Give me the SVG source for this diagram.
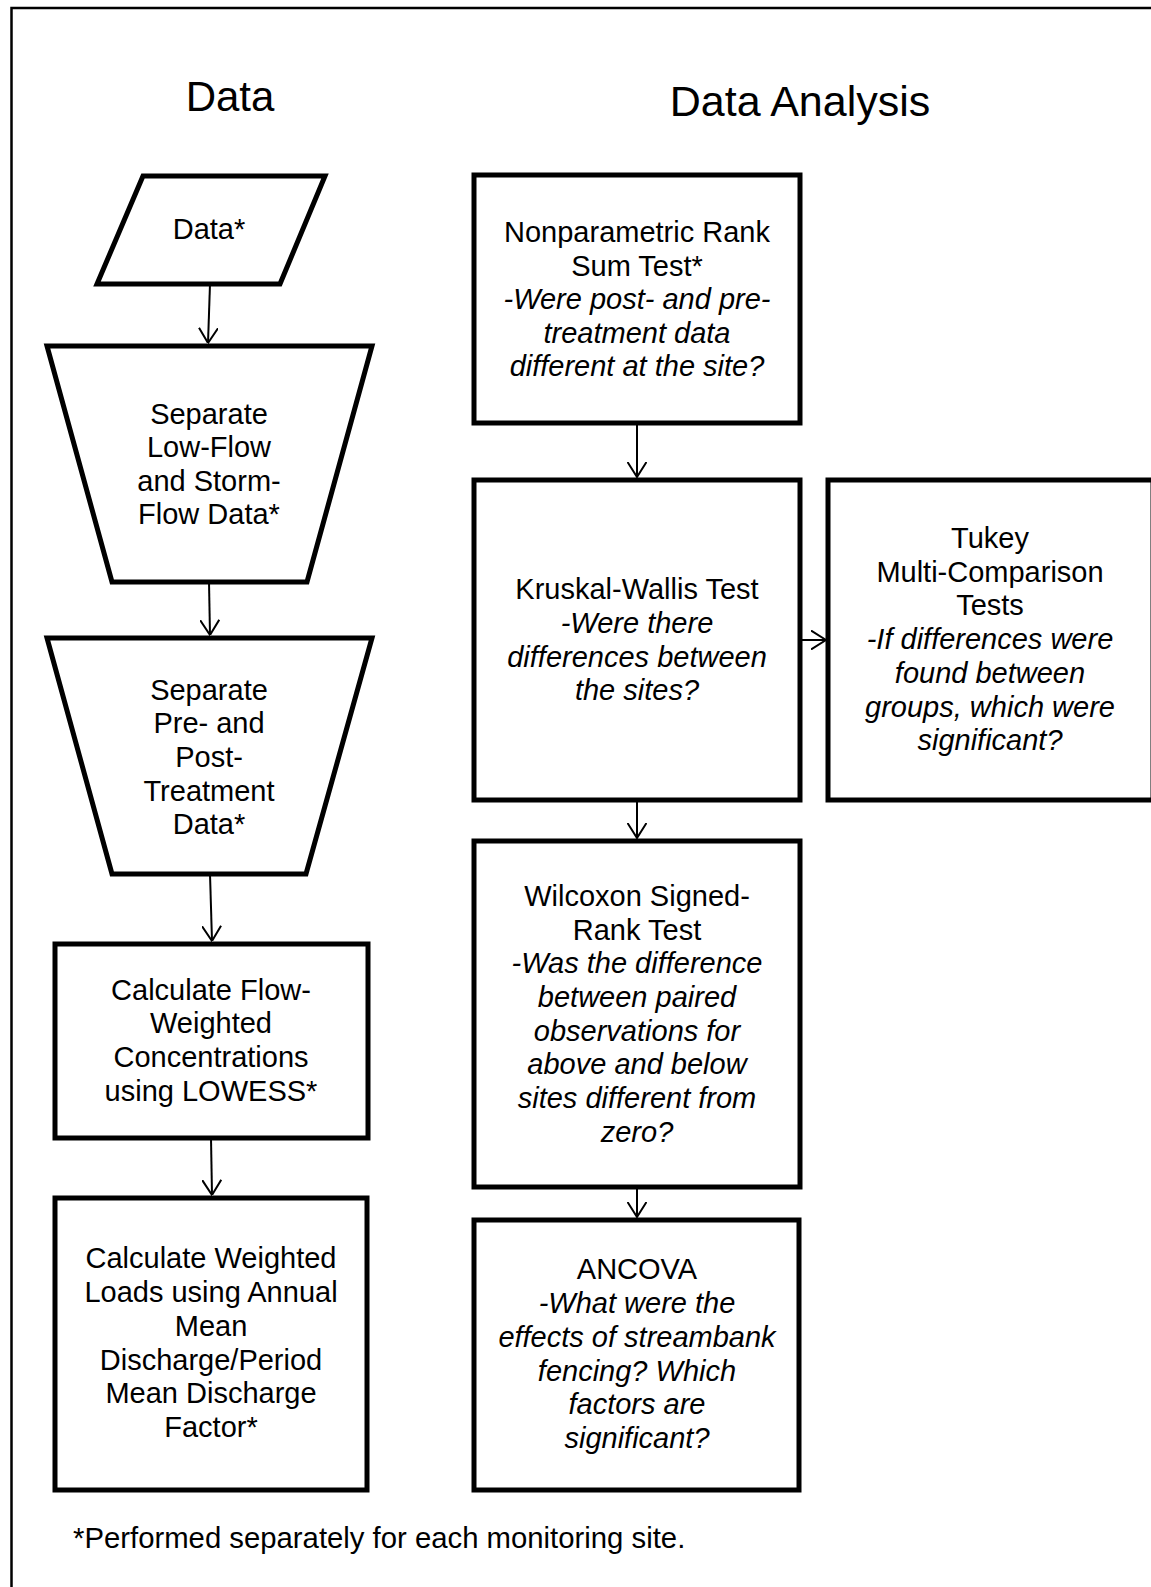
<svg xmlns="http://www.w3.org/2000/svg" width="1151" height="1587" viewBox="0 0 1151 1587">
<defs>
<style>
.node{fill:#fff;stroke:#000;stroke-width:5;stroke-linejoin:miter}
.t{font-family:"Liberation Sans",Arial,sans-serif;font-size:29px;fill:#000;text-anchor:middle}
.i{font-style:italic}
.title{font-family:"Liberation Sans",Arial,sans-serif;font-size:42px;fill:#000;text-anchor:middle}
.conn{fill:none;stroke:#000;stroke-width:2}
</style>
<marker id="arr" viewBox="0 0 16 20" refX="15.5" refY="10" markerWidth="16" markerHeight="20" markerUnits="userSpaceOnUse" orient="auto">
<path d="M0.5,0.5 L15.5,10 L0.5,19.5" fill="none" stroke="#000" stroke-width="2"/>
</marker>
</defs>
<rect width="1151" height="1587" fill="#fff"/>
<rect x="11.5" y="8" width="1160" height="1600" fill="none" stroke="#000" stroke-width="2.5"/>
<text class="title" x="230" y="111">Data</text>
<text class="title" x="800" y="116" style="font-size:43px">Data Analysis</text>

<g id="connectors">
<line class="conn" x1="210" y1="284" x2="208" y2="343" marker-end="url(#arr)"/>
<line class="conn" x1="209" y1="582" x2="210" y2="635" marker-end="url(#arr)"/>
<line class="conn" x1="210" y1="874" x2="212" y2="941" marker-end="url(#arr)"/>
<line class="conn" x1="211" y1="1138" x2="212" y2="1195" marker-end="url(#arr)"/>
<line class="conn" x1="637" y1="423" x2="637" y2="477" marker-end="url(#arr)"/>
<line class="conn" x1="800" y1="640" x2="826" y2="640" marker-end="url(#arr)"/>
<line class="conn" x1="637" y1="800" x2="637" y2="838" marker-end="url(#arr)"/>
<line class="conn" x1="637" y1="1187" x2="637" y2="1217" marker-end="url(#arr)"/>
</g>

<g id="data">
<polygon class="node" points="143,176 325,176 280,284 97,284"/>
<text class="t" x="209" y="239">Data*</text>
</g>

<g id="separate-flow">
<polygon class="node" points="47,346 372,346 307,582 112,582"/>
<text class="t" x="209" y="424">Separate</text>
<text class="t" x="209" y="457">Low-Flow</text>
<text class="t" x="209" y="491">and Storm-</text>
<text class="t" x="209" y="524">Flow Data*</text>
</g>

<g id="separate-treatment">
<polygon class="node" points="47,638 372,638 306,874 112,874"/>
<text class="t" x="209" y="700">Separate</text>
<text class="t" x="209" y="733">Pre- and</text>
<text class="t" x="209" y="767">Post-</text>
<text class="t" x="209" y="801">Treatment</text>
<text class="t" x="209" y="834">Data*</text>
</g>

<g id="flow-weighted">
<rect class="node" x="55" y="944" width="313" height="194"/>
<text class="t" x="211" y="1000">Calculate Flow-</text>
<text class="t" x="211" y="1033">Weighted</text>
<text class="t" x="211" y="1067">Concentrations</text>
<text class="t" x="211" y="1101">using LOWESS*</text>
</g>

<g id="weighted-loads">
<rect class="node" x="55" y="1198" width="312" height="292"/>
<text class="t" x="211" y="1268">Calculate Weighted</text>
<text class="t" x="211" y="1302">Loads using Annual</text>
<text class="t" x="211" y="1336">Mean</text>
<text class="t" x="211" y="1370">Discharge/Period</text>
<text class="t" x="211" y="1403">Mean Discharge</text>
<text class="t" x="211" y="1437">Factor*</text>
</g>

<g id="rank-sum">
<rect class="node" x="474" y="175" width="326" height="248"/>
<text class="t" x="637" y="242">Nonparametric Rank</text>
<text class="t" x="637" y="276">Sum Test*</text>
<text class="t i" x="637" y="309">-Were post- and pre-</text>
<text class="t i" x="637" y="343">treatment data</text>
<text class="t i" x="637" y="376">different at the site?</text>
</g>

<g id="kruskal">
<rect class="node" x="474" y="480" width="326" height="320"/>
<text class="t" x="637" y="599">Kruskal-Wallis Test</text>
<text class="t i" x="637" y="633">-Were there</text>
<text class="t i" x="637" y="667">differences between</text>
<text class="t i" x="637" y="700">the sites?</text>
</g>

<g id="tukey">
<rect class="node" x="828" y="480" width="325" height="320"/>
<text class="t" x="990" y="548">Tukey</text>
<text class="t" x="990" y="582">Multi-Comparison</text>
<text class="t" x="990" y="615">Tests</text>
<text class="t i" x="990" y="649">-If differences were</text>
<text class="t i" x="990" y="683">found between</text>
<text class="t i" x="990" y="717">groups, which were</text>
<text class="t i" x="990" y="750">significant?</text>
</g>

<g id="wilcoxon">
<rect class="node" x="474" y="841" width="326" height="346"/>
<text class="t" x="637" y="906">Wilcoxon Signed-</text>
<text class="t" x="637" y="940">Rank Test</text>
<text class="t i" x="637" y="973">-Was the difference</text>
<text class="t i" x="637" y="1007">between paired</text>
<text class="t i" x="637" y="1041">observations for</text>
<text class="t i" x="637" y="1074">above and below</text>
<text class="t i" x="637" y="1108">sites different from</text>
<text class="t i" x="637" y="1142">zero?</text>
</g>

<g id="ancova">
<rect class="node" x="474" y="1220" width="325" height="270"/>
<text class="t" x="637" y="1279">ANCOVA</text>
<text class="t i" x="637" y="1313">-What were the</text>
<text class="t i" x="637" y="1347">effects of streambank</text>
<text class="t i" x="637" y="1381">fencing? Which</text>
<text class="t i" x="637" y="1414">factors are</text>
<text class="t i" x="637" y="1448">significant?</text>
</g>

<text class="t" x="73" y="1548" style="text-anchor:start;font-size:29.3px">*Performed separately for each monitoring site.</text>
</svg>
